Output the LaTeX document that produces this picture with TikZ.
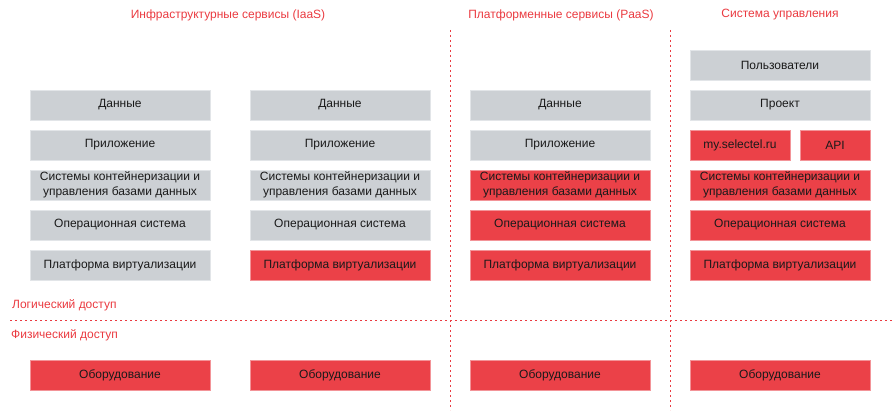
\documentclass[tikz,border=0pt]{standalone}
\usepackage{fontspec}
\setmainfont{Liberation Sans}
\usetikzlibrary{positioning}
\definecolor{boxgray}{RGB}{204,208,212}
\definecolor{edgegray}{RGB}{226,229,232}
\definecolor{boxred}{RGB}{235,65,72}
\definecolor{edgered}{RGB}{243,148,152}
\definecolor{titlered}{RGB}{234,58,64}
\definecolor{textdark}{RGB}{26,26,26}

\tikzset{
  layer/.style={draw=edgegray, fill=boxgray, line width=0.8pt, rectangle, inner sep=0pt,
    minimum width=180pt, minimum height=30pt, align=center, text=textdark,
    font=\fontsize{12}{14.6}\selectfont},
  layerred/.style={layer, draw=edgered, fill=boxred},
  heading/.style={text=titlered, font=\fontsize{12}{14}\selectfont, inner sep=0pt},
  divider/.style={draw=titlered, line width=0.8pt, dash pattern=on 2pt off 3pt}
}

\begin{document}
\begin{tikzpicture}[x=1pt, y=-1pt]
            \useasboundingbox (0,0) rectangle (892,412);

            % Headings
            \node[heading] (iaas) at (228,15) {Инфраструктурные сервисы (IaaS)};
            \node[heading] (paas) at (561,15) {Платформенные сервисы (PaaS)};
            \node[heading] (mgmt) at (780,15) {Система управления};

            % Column 1 (IaaS)
            \node[layer] (data1) at (120,105) {Данные};
            \node[layer] (app1) at (120,145) {Приложение};
            \node[layer] (db1) at (120,185) {Системы контейнеризации и\\управления базами данных};
            \node[layer] (os1) at (120,225) {Операционная система};
            \node[layer] (virt1) at (120,265) {Платформа виртуализации};
            \node[layerred] (hw1) at (120,375) {Оборудование};

            % Column 2 (IaaS)
            \node[layer] (data2) at (340,105) {Данные};
            \node[layer] (app2) at (340,145) {Приложение};
            \node[layer] (db2) at (340,185) {Системы контейнеризации и\\управления базами данных};
            \node[layer] (os2) at (340,225) {Операционная система};
            \node[layerred] (virt2) at (340,265) {Платформа виртуализации};
            \node[layerred] (hw2) at (340,375) {Оборудование};

            % Column 3 (PaaS)
            \node[layer] (data3) at (560,105) {Данные};
            \node[layer] (app3) at (560,145) {Приложение};
            \node[layerred] (db3) at (560,185) {Системы контейнеризации и\\управления базами данных};
            \node[layerred] (os3) at (560,225) {Операционная система};
            \node[layerred] (virt3) at (560,265) {Платформа виртуализации};
            \node[layerred] (hw3) at (560,375) {Оборудование};

            % Column 4 (management)
            \node[layer] (users) at (780,65) {Пользователи};
            \node[layer] (project) at (780,105) {Проект};
            \node[layerred, minimum width=100pt] (portal) at (740,145) {my.selectel.ru};
            \node[layerred, minimum width=70pt] (api) at (835,145) {API};
            \node[layerred] (db4) at (780,185) {Системы контейнеризации и\\управления базами данных};
            \node[layerred] (os4) at (780,225) {Операционная система};
            \node[layerred] (virt4) at (780,265) {Платформа виртуализации};
            \node[layerred] (hw4) at (780,375) {Оборудование};

            % Dividers
            \draw[divider] (450,30) -- (450,410);
            \draw[divider] (670,30) -- (670,410);
            \draw[divider] (10,320) -- (892,320);

            % Labels
            \node[heading, anchor=west] (logic) at (12,305) {Логический доступ};
            \node[heading, anchor=west] (phys) at (11,335) {Физический доступ};
        \end{tikzpicture}
\end{document}
